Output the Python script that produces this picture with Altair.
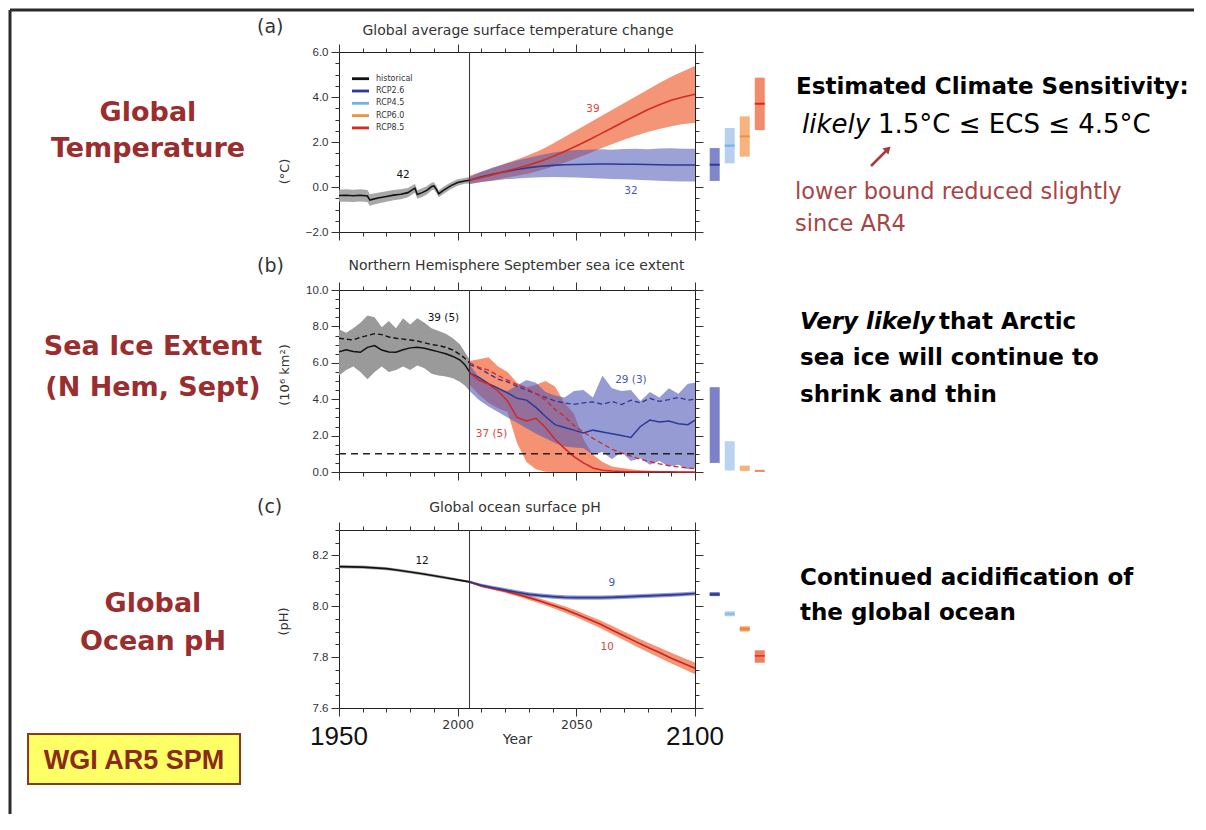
import altair as alt
import pandas as pd

# ---------------------------------------------------------------- data
SERIES = ["historical", "RCP2.6", "RCP4.5", "RCP6.0", "RCP8.5"]
SCENARIOS = ["RCP2.6", "RCP4.5", "RCP6.0", "RCP8.5"]
X_MAJOR = [1950, 2000, 2050, 2100]
X_MINOR = [1950, 1960, 1970, 1980, 1990, 2000, 2010, 2020, 2030, 2040, 2050, 2060, 2070, 2080, 2090, 2100]

# (a) Global average surface temperature change (deg C)
a_hist_year = [1950, 1953, 1956, 1959, 1962, 1963, 1964, 1967, 1970, 1973, 1976, 1979, 1981, 1982, 1983,
               1985, 1987, 1989, 1990, 1991, 1992, 1994, 1997, 2000, 2003, 2005]
a_hist_mean = [-0.38, -0.37, -0.39, -0.37, -0.40, -0.58, -0.55, -0.48, -0.42, -0.36, -0.32, -0.25, -0.12, -0.05, -0.33,
               -0.25, -0.15, 0.02, 0.05, -0.10, -0.30, -0.15, 0.05, 0.20, 0.27, 0.30]
a_hist_hi = [-0.12, -0.10, -0.12, -0.10, -0.13, -0.32, -0.30, -0.24, -0.19, -0.13, -0.10, -0.04, 0.08, 0.14, -0.14,
             -0.06, 0.03, 0.19, 0.21, 0.06, -0.14, 0.01, 0.20, 0.34, 0.40, 0.44]
a_hist_lo = [-0.66, -0.65, -0.67, -0.64, -0.67, -0.84, -0.80, -0.72, -0.66, -0.59, -0.54, -0.46, -0.32, -0.25, -0.52,
             -0.44, -0.33, -0.15, -0.11, -0.26, -0.46, -0.31, -0.10, 0.06, 0.14, 0.16]
a_fut_year = [2005, 2010, 2015, 2020, 2025, 2030, 2035, 2040, 2045, 2050, 2055, 2060, 2065, 2070, 2075, 2080,
              2085, 2090, 2095, 2100]
a_rcp85_mean = [0.30, 0.42, 0.55, 0.70, 0.83, 0.98, 1.15, 1.35, 1.58, 1.82, 2.08, 2.35, 2.62, 2.90, 3.17, 3.43,
                3.66, 3.86, 4.00, 4.12]
a_rcp85_hi = [0.50, 0.68, 0.85, 1.05, 1.22, 1.42, 1.65, 1.92, 2.22, 2.52, 2.82, 3.12, 3.42, 3.72, 4.02, 4.32,
              4.62, 4.90, 5.15, 5.38]
a_rcp85_lo = [0.12, 0.22, 0.30, 0.40, 0.50, 0.60, 0.75, 0.90, 1.08, 1.28, 1.48, 1.70, 1.90, 2.10, 2.28, 2.45,
              2.58, 2.70, 2.80, 2.85]
a_rcp26_mean = [0.30, 0.45, 0.58, 0.68, 0.78, 0.86, 0.92, 0.96, 0.99, 1.00, 1.01, 1.02, 1.02, 1.01, 1.01, 1.00,
                0.99, 0.98, 0.98, 0.98]
a_rcp26_hi = [0.45, 0.68, 0.88, 1.02, 1.18, 1.30, 1.42, 1.52, 1.60, 1.64, 1.66, 1.68, 1.66, 1.69, 1.70, 1.68,
              1.71, 1.72, 1.70, 1.70]
a_rcp26_lo = [0.15, 0.22, 0.28, 0.34, 0.38, 0.41, 0.43, 0.44, 0.43, 0.42, 0.40, 0.38, 0.36, 0.34, 0.32, 0.30,
              0.28, 0.26, 0.25, 0.24]
a_bar_lo = [0.27, 1.05, 1.35, 2.53]
a_bar_hi = [1.73, 2.62, 3.14, 4.86]
a_bar_med = [0.99, 1.84, 2.25, 3.70]
a_count_text = ["42", "39", "32"]
a_count_year = [1977, 2057, 2073]
a_count_value = [0.52, 3.45, -0.19]

# (b) Northern Hemisphere September sea ice extent (10^6 km^2)
b_hist_year = [1950, 1953, 1956, 1959, 1962, 1965, 1968, 1971, 1974, 1977, 1980, 1983, 1986, 1989, 1992,
               1995, 1998, 2001, 2003, 2005]
b_hist_mean = [6.60, 6.72, 6.62, 6.58, 6.85, 6.95, 6.70, 6.60, 6.58, 6.72, 6.82, 6.86, 6.80, 6.70, 6.60,
               6.50, 6.35, 6.15, 5.90, 5.50]
b_hist_dash = [7.35, 7.30, 7.25, 7.40, 7.50, 7.60, 7.55, 7.42, 7.35, 7.30, 7.25, 7.20, 7.10, 7.00, 6.95,
               6.85, 6.70, 6.45, 6.25, 6.00]
b_hist_hi = [7.85, 7.65, 7.90, 8.20, 8.60, 8.50, 7.95, 8.30, 7.90, 8.45, 8.10, 8.45, 8.20, 7.90, 7.75,
             7.60, 7.35, 7.00, 6.60, 6.20]
b_hist_lo = [5.30, 5.60, 5.80, 5.50, 5.10, 5.50, 5.80, 5.50, 5.60, 5.80, 5.60, 5.85, 5.70, 5.40, 5.30,
             5.25, 5.15, 4.95, 4.75, 4.45]
b_fut_year = [2005, 2009, 2013, 2017, 2021, 2025, 2029, 2033, 2037, 2041, 2045, 2049, 2053, 2057, 2061,
              2065, 2069, 2073, 2077, 2081, 2085, 2089, 2093, 2097, 2100]
b_rcp85_mean = [5.45, 5.05, 4.82, 4.45, 3.90, 3.00, 2.80, 2.95, 2.45, 1.80, 1.30, 0.85, 0.50, 0.22, 0.10,
                0.05, 0.03, 0.02, 0.02, 0.01, 0.01, 0.01, 0.00, 0.00, 0.00]
b_rcp85_dash = [6.00, 5.75, 5.60, 5.30, 5.05, 4.80, 4.60, 4.30, 3.95, 3.45, 3.05, 2.55, 2.20, 1.85, 1.55,
                1.25, 1.05, 0.87, 0.70, 0.57, 0.45, 0.35, 0.28, 0.22, 0.18]
b_rcp85_hi = [6.10, 6.20, 6.30, 5.80, 5.50, 4.90, 4.65, 4.80, 5.00, 4.70, 3.80, 3.20, 1.80, 0.95, 0.55,
              0.30, 0.22, 0.15, 0.10, 0.07, 0.05, 0.04, 0.03, 0.02, 0.02]
b_rcp85_lo = [4.80, 4.25, 3.80, 3.50, 3.30, 1.60, 0.55, 0.15, 0.02, 0.00, 0.00, 0.00, 0.00, 0.00, 0.00,
              0.00, 0.00, 0.00, 0.00, 0.00, 0.00, 0.00, 0.00, 0.00, 0.00]
b_rcp26_mean = [5.45, 5.20, 4.85, 4.60, 4.35, 4.05, 3.95, 3.55, 3.05, 2.60, 2.45, 2.30, 2.15, 2.30, 2.20,
                2.10, 2.00, 1.90, 2.50, 2.85, 2.75, 2.80, 2.65, 2.60, 2.85]
b_rcp26_dash = [5.90, 5.70, 5.40, 5.10, 4.95, 4.70, 4.50, 4.30, 4.10, 3.90, 3.80, 3.72, 3.80, 3.85, 3.72,
                3.88, 3.70, 3.95, 3.80, 4.05, 3.88, 3.98, 4.10, 3.95, 4.00]
b_rcp26_hi = [5.90, 5.20, 4.75, 4.55, 4.45, 4.75, 5.05, 4.90, 4.40, 4.20, 4.10, 4.45, 4.50, 4.10, 5.30,
              4.60, 4.45, 4.50, 3.90, 4.40, 4.10, 4.60, 4.30, 4.85, 4.90]
b_rcp26_lo = [4.45, 3.95, 3.60, 3.30, 3.00, 2.70, 2.40, 2.10, 1.85, 1.60, 1.40, 1.35, 1.30, 0.95, 1.10,
              0.70, 1.10, 0.60, 0.75, 0.40, 0.60, 0.30, 0.40, 0.15, 0.22]
b_ice_free = 1.0
b_bar_lo = [0.50, 0.08, 0.06, 0.00]
b_bar_hi = [4.66, 1.69, 0.35, 0.12]
b_count_text = ["39 (5)", "29 (3)", "37 (5)"]
b_count_year = [1994, 2073, 2014.3]
b_count_value = [8.45, 5.08, 2.09]

# (c) Global ocean surface pH
c_hist_year = [1950, 1955, 1960, 1965, 1970, 1975, 1980, 1985, 1990, 1995, 2000, 2005]
c_hist_mean = [8.156, 8.155, 8.154, 8.151, 8.148, 8.142, 8.135, 8.128, 8.120, 8.112, 8.104, 8.096]
c_hist_hi = [8.162, 8.161, 8.160, 8.157, 8.154, 8.148, 8.141, 8.134, 8.126, 8.118, 8.109, 8.100]
c_hist_lo = [8.150, 8.149, 8.148, 8.145, 8.142, 8.136, 8.129, 8.122, 8.114, 8.106, 8.099, 8.092]
c_fut_year = [2005, 2010, 2015, 2020, 2025, 2030, 2035, 2040, 2045, 2050, 2055, 2060, 2065, 2070, 2075, 2080,
              2085, 2090, 2095, 2100]
c_rcp26_mean = [8.096, 8.083, 8.073, 8.064, 8.055, 8.047, 8.042, 8.038, 8.035, 8.034, 8.034, 8.034, 8.035, 8.037,
                8.039, 8.041, 8.043, 8.045, 8.047, 8.050]
c_rcp26_hi = [8.100, 8.089, 8.080, 8.072, 8.063, 8.055, 8.050, 8.046, 8.043, 8.042, 8.042, 8.042, 8.043, 8.045,
              8.047, 8.049, 8.051, 8.053, 8.055, 8.058]
c_rcp26_lo = [8.092, 8.077, 8.066, 8.056, 8.047, 8.039, 8.034, 8.030, 8.027, 8.026, 8.026, 8.026, 8.027, 8.029,
              8.031, 8.033, 8.035, 8.037, 8.039, 8.042]
c_rcp85_mean = [8.096, 8.080, 8.070, 8.060, 8.047, 8.034, 8.020, 8.004, 7.988, 7.970, 7.950, 7.930, 7.907, 7.884,
                7.861, 7.839, 7.818, 7.796, 7.776, 7.756]
c_rcp85_hi = [8.100, 8.085, 8.076, 8.067, 8.055, 8.043, 8.030, 8.015, 8.000, 7.983, 7.964, 7.945, 7.923, 7.901,
              7.879, 7.858, 7.838, 7.817, 7.798, 7.779]
c_rcp85_lo = [8.092, 8.075, 8.064, 8.053, 8.039, 8.025, 8.010, 7.993, 7.976, 7.957, 7.936, 7.915, 7.891, 7.867,
              7.843, 7.820, 7.798, 7.775, 7.754, 7.733]
c_bar_lo = [8.040, 7.961, 7.901, 7.778]
c_bar_hi = [8.055, 7.980, 7.921, 7.827]
c_bar_med = [8.047, 7.970, 7.911, 7.805]
c_count_text = ["12", "9", "10"]
c_count_year = [1985, 2065, 2063]
c_count_value = [8.18, 8.09, 7.84]

# ---------------------------------------------------------------- styles
W = 356
H_A, H_B, H_C = 180, 182, 178
BAR_X0, BAR_STEP, BAR_W = 2106.2, 6.33, 4.2
RED_TXT = "#9a2e2e"
XS = alt.Scale(domain=[1950, 2100], nice=False, zero=False)
YA = alt.Scale(domain=[-2, 6], nice=False, zero=False)
YB = alt.Scale(domain=[0, 10], nice=False, zero=False)
YC = alt.Scale(domain=[7.6, 8.3], nice=False, zero=False)
SERIES_COLORS = ["#111111", "#2b3a97", "#70b2e6", "#f0913f", "#d72a1f"]
STROKE_SCALE = alt.Scale(domain=SERIES, range=SERIES_COLORS)
BLUE, RED, BLACK = "#2b3a97", "#d5262a", "#111111"


def X(field="year"):
    return alt.X(f"{field}:Q", scale=XS, axis=None)


def Y(field, ys):
    return alt.Y(f"{field}:Q", scale=ys, axis=None)


def band(year, lo, hi, ys, color, op):
    df = pd.DataFrame({"year": year, "lo": lo, "hi": hi})
    return alt.Chart(df).mark_area(color=color, opacity=op).encode(x=X(), y=Y("lo", ys), y2="hi:Q")


def line(year, vals, ys, color, width=1.5, dash=None):
    df = pd.DataFrame({"year": year, "v": vals})
    kw = dict(color=color, strokeWidth=width)
    if dash:
        kw["strokeDash"] = dash
    return alt.Chart(df).mark_line(**kw).encode(x=X(), y=Y("v", ys))


def sline(year, vals, ys, series):
    df = pd.DataFrame({"year": year, "v": vals, "series": series})
    return alt.Chart(df).mark_line(strokeWidth=1.6).encode(
        x=X(), y=Y("v", ys), stroke=alt.Stroke("series:N", scale=STROKE_SCALE, legend=None))


def bar_frame(lo, hi):
    return pd.DataFrame({
        "scenario": SCENARIOS,
        "x0": [BAR_X0 + BAR_STEP * i for i in range(4)],
        "x1": [BAR_X0 + BAR_STEP * i + BAR_W for i in range(4)],
        "lo": lo, "hi": hi})


def bars(lo, hi, ys, colors, op):
    return alt.Chart(bar_frame(lo, hi)).mark_rect(opacity=op).encode(
        x=X("x0"), x2="x1:Q", y=Y("lo", ys), y2="hi:Q",
        fill=alt.Fill("scenario:N", scale=alt.Scale(domain=SCENARIOS, range=colors), legend=None))


def medians(med, ys, sscale, width=2):
    return alt.Chart(bar_frame(med, med)).mark_rule(strokeWidth=width).encode(
        x=X("x0"), x2="x1:Q", y=Y("lo", ys),
        stroke=alt.Stroke("scenario:N", scale=sscale, legend=None))


def vline(h):
    return alt.Chart(pd.DataFrame({"year": [2005]})).mark_rule(color="#333", strokeWidth=1).encode(
        x=X(), y=alt.value(0), y2=alt.value(h))


def dtext(s, year, v, ys, color, size=10.5):
    df = pd.DataFrame({"year": [year], "v": [v], "t": [s]})
    return alt.Chart(df).mark_text(color=color, fontSize=size, font="DejaVu Sans", baseline="middle").encode(
        x=X(), y=Y("v", ys), text="t:N")


def ptext(s, x, y, size, color="#000000", weight="normal", style="normal", align="left",
          font="DejaVu Sans", baseline="alphabetic"):
    return alt.Chart(pd.DataFrame({"t": [s]})).mark_text(
        fontSize=size, font=font, fontWeight=weight, fontStyle=style, align=align,
        baseline=baseline, color=color).encode(x=alt.value(x), y=alt.value(y), text="t:N")


def axis_layers(ys, ydom, ymaj, ymin, yfmt, ytitle, tx, ty, show_x):
    d = pd.DataFrame({"year": [1950.0], "v": [float(ydom[0])]})
    common = dict(domain=False, grid=False, tickColor="#333333", tickWidth=1)
    if show_x:
        xb = alt.Axis(orient="bottom", values=X_MAJOR, tickSize=8, format="d",
                      labelExpr="datum.value == 2000 || datum.value == 2050 ? datum.label : ''",
                      labelFontSize=12.5, labelPadding=2, labelColor="#333333", labelFont="DejaVu Sans",
                      title="Year", titleFontSize=14, titleFontWeight="normal", titleColor="#333333",
                      titlePadding=2, titleFont="DejaVu Sans", **common)
    else:
        xb = alt.Axis(orient="bottom", values=X_MAJOR, tickSize=8, labels=False, title=None, **common)
    yl = alt.Axis(orient="left", values=ymaj, format=yfmt, tickSize=8, labelFontSize=11.5,
                  labelFont="Liberation Sans", labelColor="#333333", labelPadding=3,
                  title=ytitle, titleX=tx, titleY=ty, titleAngle=270, titleBaseline="middle",
                  titleAlign="center", titleFontSize=13, titleFontWeight="normal",
                  titleFont="DejaVu Sans", titleColor="#333333", **common)
    xt = alt.Axis(orient="top", values=X_MAJOR, tickSize=8, labels=False, title=None, **common)
    yr = alt.Axis(orient="right", values=ymaj, tickSize=8, labels=False, title=None, **common)
    xbm = alt.Axis(orient="bottom", values=X_MINOR, tickSize=4, labels=False, title=None, **common)
    ylm = alt.Axis(orient="left", values=ymin, tickSize=4, labels=False, title=None, **common)
    xtm = alt.Axis(orient="top", values=X_MINOR, tickSize=4, labels=False, title=None, **common)
    yrm = alt.Axis(orient="right", values=ymin, tickSize=4, labels=False, title=None, **common)
    out = []
    for ax, ay in [(xb, yl), (xt, yr), (xbm, ylm), (xtm, yrm)]:
        out.append(alt.Chart(d).mark_point(opacity=0).encode(
            x=alt.X("year:Q", scale=XS, axis=ax), y=alt.Y("v:Q", scale=ys, axis=ay)))
    return out


def one_row():
    return pd.DataFrame({"k": [0]})


def legend_layers():
    out = []
    for i, (name, col) in enumerate(zip(SERIES, SERIES_COLORS)):
        yy = 26.7 + 12.3 * i
        out.append(alt.Chart(one_row()).mark_rule(color=col, strokeWidth=2.8).encode(
            x=alt.value(13), x2=alt.value(30), y=alt.value(yy)))
        out.append(ptext(name, 37, yy, 8, "#333333", baseline="middle"))
    return out


# ---------------------------------------------------------------- panel (a)
a_layers = [
    band(a_hist_year, a_hist_lo, a_hist_hi, YA, "#9f9f9f", 0.9),
    band(a_fut_year, a_rcp85_lo, a_rcp85_hi, YA, "#f3825f", 0.85),
    band(a_fut_year, a_rcp26_lo, a_rcp26_hi, YA, "#4c56b4", 0.55),
    sline(a_fut_year, a_rcp26_mean, YA, "RCP2.6"),
    sline(a_fut_year, a_rcp85_mean, YA, "RCP8.5"),
    sline(a_hist_year, a_hist_mean, YA, "historical"),
    bars(a_bar_lo, a_bar_hi, YA, ["#7f86c9", "#b7d0f0", "#f7b27d", "#f28b6c"], 1),
    medians(a_bar_med, YA, STROKE_SCALE),
    vline(H_A),
]
for s, yr, v, col in zip(a_count_text, a_count_year, a_count_value, [BLACK, "#e0463a", "#4a58b0"]):
    a_layers.append(dtext(s, yr, v, YA, col))
a_layers += axis_layers(YA, [-2, 6], [-2, 0, 2, 4, 6], [-2 + 0.5 * i for i in range(17)], ".1f",
                        "(°C)", -55, 119, False)
a_layers += legend_layers()
a_layers += [
    alt.Chart(one_row()).mark_rule(color="#2a2a2a", strokeWidth=3).encode(
        x=alt.value(-329), x2=alt.value(855), y=alt.value(-42)),
    alt.Chart(one_row()).mark_rule(color="#2a2a2a", strokeWidth=3).encode(
        x=alt.value(-329), y=alt.value(-42), y2=alt.value(762)),
    ptext("(a)", -82, -19, 19, "#333333"),
    ptext("Global average surface temperature change", 179, -17, 14, "#333333", align="center"),
    ptext("Global", -191, 69, 27, RED_TXT, weight="bold", align="center"),
    ptext("Temperature", -191, 105, 27, RED_TXT, weight="bold", align="center"),
    ptext("Estimated Climate Sensitivity:", 457, 42, 23, weight="bold"),
    ptext("likely", 463, 81, 26, style="italic"),
    ptext("1.5°C ≤ ECS ≤ 4.5°C", 539, 81, 26),
    alt.Chart(one_row()).mark_rule(color="#a33d3d", strokeWidth=2.5).encode(
        x=alt.value(532), y=alt.value(114), x2=alt.value(548), y2=alt.value(98)),
    alt.Chart(one_row()).mark_point(shape="triangle-up", angle=45, filled=True, size=70,
                                    color="#a33d3d", opacity=1).encode(x=alt.value(549), y=alt.value(97)),
    ptext("lower bound reduced slightly", 456, 147, 22.5, "#a84444"),
    ptext("since AR4", 456, 179, 22.5, "#a84444"),
]
pa = alt.layer(*a_layers).resolve_axis(x="independent", y="independent").properties(width=W, height=H_A)

# ---------------------------------------------------------------- panel (b)
b_layers = [
    band(b_hist_year, b_hist_lo, b_hist_hi, YB, "#959595", 0.95),
    band(b_fut_year, b_rcp85_lo, b_rcp85_hi, YB, "#f37f5a", 0.85),
    band(b_fut_year, b_rcp26_lo, b_rcp26_hi, YB, "#5158b8", 0.6),
    line(b_hist_year, b_hist_dash, YB, BLACK, 1.4, [5, 3]),
    line(b_hist_year, b_hist_mean, YB, BLACK, 1.5),
    line(b_fut_year, b_rcp26_dash, YB, BLUE, 1.3, [5, 3]),
    line(b_fut_year, b_rcp26_mean, YB, BLUE, 1.5),
    line(b_fut_year, b_rcp85_dash, YB, RED, 1.3, [5, 3]),
    line(b_fut_year, b_rcp85_mean, YB, RED, 1.5),
    alt.Chart(pd.DataFrame({"y0": [1950], "y1": [2100], "v": [b_ice_free]})).mark_rule(
        color="#222222", strokeWidth=1.6, strokeDash=[7, 5]).encode(x=X("y0"), x2="y1:Q", y=Y("v", YB)),
    bars(b_bar_lo, b_bar_hi, YB, ["#7c82c8", "#b9d4ef", "#f6b07c", "#f28b6c"], 1),
    vline(H_B),
]
for s, yr, v, col in zip(b_count_text, b_count_year, b_count_value, [BLACK, "#4a58b0", "#e0463a"]):
    b_layers.append(dtext(s, yr, v, YB, col))
b_layers += axis_layers(YB, [0, 10], [0, 2, 4, 6, 8, 10], [0.5 * i for i in range(21)], ".1f",
                        "(10⁶ km²)", -55, 84.5, False)
b_layers += [
    ptext("(b)", -82, -18, 19, "#333333"),
    ptext("Northern Hemisphere September sea ice extent", 177.5, -20, 14, "#333333", align="center"),
    ptext("Sea Ice Extent", -186, 65, 27, RED_TXT, weight="bold", align="center"),
    ptext("(N Hem, Sept)", -186, 106, 27, RED_TXT, weight="bold", align="center"),
    ptext("Very likely", 461, 39, 23, weight="bold", style="italic"),
    ptext("that Arctic", 600, 39, 23, weight="bold"),
    ptext("sea ice will continue to", 461, 75, 23, weight="bold"),
    ptext("shrink and thin", 461, 112, 23, weight="bold"),
]
pb = alt.layer(*b_layers).resolve_axis(x="independent", y="independent").properties(width=W, height=H_B)

# ---------------------------------------------------------------- panel (c)
C_MED_SCALE = alt.Scale(domain=SCENARIOS, range=["#2b3a97", "#8ab8e8", "#e8843a", "#d8301c"])
c_layers = [
    band(c_hist_year, c_hist_lo, c_hist_hi, YC, "#9f9f9f", 0.9),
    band(c_fut_year, c_rcp85_lo, c_rcp85_hi, YC, "#f3825f", 0.85),
    band(c_fut_year, c_rcp26_lo, c_rcp26_hi, YC, "#4c56b4", 0.6),
    line(c_fut_year, c_rcp85_mean, YC, "#c8261c", 1.6),
    line(c_fut_year, c_rcp26_mean, YC, BLUE, 1.6),
    line(c_hist_year, c_hist_mean, YC, BLACK, 1.6),
    bars(c_bar_lo, c_bar_hi, YC, ["#4c58a8", "#aacdf0", "#f29b52", "#ef7f60"], 1),
    medians(c_bar_med, YC, C_MED_SCALE, 1.5),
    vline(H_C),
]
for s, yr, v, col in zip(c_count_text, c_count_year, c_count_value, [BLACK, "#4a58b0", "#e0463a"]):
    c_layers.append(dtext(s, yr, v, YC, col))
c_layers += axis_layers(YC, [7.6, 8.3], [7.6, 7.8, 8.0, 8.2], [7.6 + 0.05 * i for i in range(15)], ".1f",
                        "(pH)", -56, 91, True)
c_big = pd.DataFrame({"year": [1950, 2100], "t": ["1950", "2100"]})
c_layers += [
    alt.Chart(c_big).mark_text(font="Liberation Sans", fontSize=26, color="#111111",
                               baseline="alphabetic").encode(x=X(), y=alt.value(215), text="t:N"),
    ptext("(c)", -82, -17, 19, "#333333"),
    ptext("Global ocean surface pH", 176, -18, 14, "#333333", align="center"),
    ptext("Global", -186, 82, 27, RED_TXT, weight="bold", align="center"),
    ptext("Ocean pH", -186, 120, 27, RED_TXT, weight="bold", align="center"),
    ptext("Continued acidification of", 461, 55, 23, weight="bold"),
    ptext("the global ocean", 461, 90, 23, weight="bold"),
    alt.Chart(one_row()).mark_rect(fill="#ffff66", stroke="#8b3a22", strokeWidth=2).encode(
        x=alt.value(-311), x2=alt.value(-99), y=alt.value(204), y2=alt.value(254)),
    ptext("WGI AR5 SPM", -205, 239, 27, "#8b2a1a", weight="bold", align="center", font="Liberation Sans"),
]
pc = alt.layer(*c_layers).resolve_axis(x="independent", y="independent").properties(width=W, height=H_C)

# ---------------------------------------------------------------- assemble
chart = (
    alt.vconcat(pa, pb, pc, spacing=58, bounds="flush")
    .resolve_scale(x="independent", y="independent", stroke="independent", fill="independent")
    .properties(padding=0, background="white")
    .configure(font="DejaVu Sans")
    .configure_view(stroke="#222222", strokeWidth=1)
)

chart.save("out.html", embed_options={"renderer": "svg", "actions": False})
